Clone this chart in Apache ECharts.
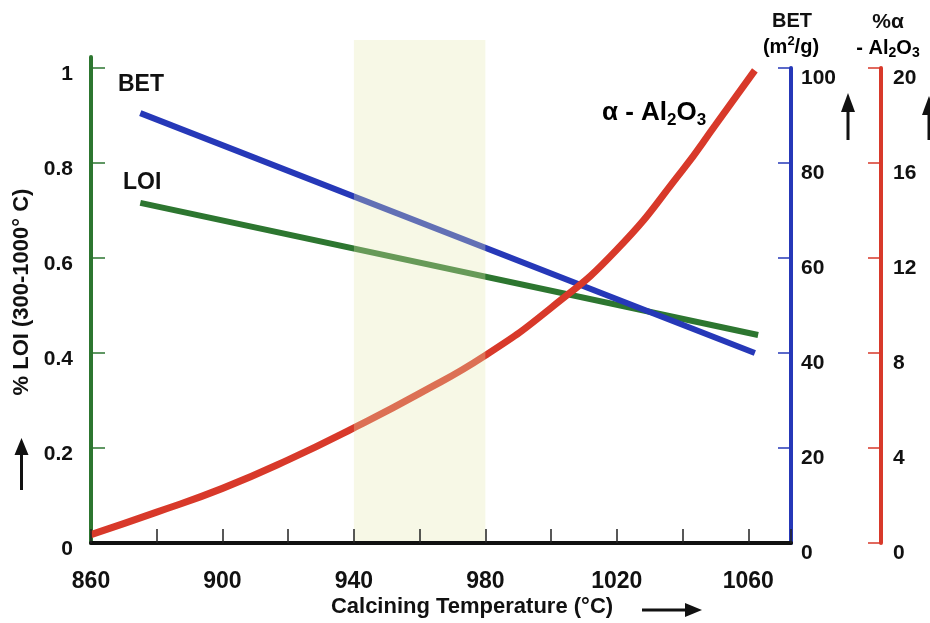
<!DOCTYPE html>
<html><head><meta charset="utf-8">
<script src="https://cdn.jsdelivr.net/npm/echarts@6/dist/echarts.min.js"></script>
<style>html,body{margin:0;padding:0;background:#fff}#c{width:930px;height:623px}</style>
</head><body><div id="c"></div>
<script>
// ---- data ----
const xRange = [860, 1073];
const xLabelTicks = [860, 900, 940, 980, 1020, 1060];
const bandRange = [940, 980];
const bandLevel = [1, 1];

const betTemps = [875, 1062];
const betValues = [90.5, 40];

const loiTemps = [875, 1063];
const loiValues = [0.716, 0.438];

const alphaTemps = [860, 880, 900, 920, 940, 960, 980, 1000, 1020, 1040, 1050, 1062];
const alphaValues = [0.35, 1.3, 2.3, 3.5, 4.85, 6.3, 7.9, 9.9, 12.35, 15.7, 17.6, 19.9];

const loiAxis = {min: 0, max: 1, interval: 0.2};
const betAxis = {min: 0, max: 100, interval: 20};
const alphaAxis = {min: 0, max: 20, interval: 4};

// ---- style ----
const FONT = '"Liberation Sans", Arial, Helvetica, sans-serif';
const BLUE = '#2638b8';
const GREEN = '#2d7630';
const RED = '#d8392a';
const INK = '#111';

const pair = (xs, ys) => xs.map((x, i) => [x, ys[i]]);

const chart = echarts.init(document.getElementById('c'), null, {renderer: 'canvas'});

const tickLabelStyle = {color: INK, fontFamily: FONT, fontWeight: 'bold', fontSize: 21};

function arrow(x1, y1, x2, y2, head, half) {
  const dx = x2 - x1, dy = y2 - y1;
  const len = Math.sqrt(dx * dx + dy * dy);
  const ux = dx / len, uy = dy / len;
  const bx = x2 - ux * head, by = y2 - uy * head;
  return {
    type: 'group', silent: true,
    children: [
      {type: 'line', shape: {x1: x1, y1: y1, x2: bx, y2: by}, style: {stroke: INK, lineWidth: 3}},
      {type: 'polygon', shape: {points: [[x2, y2], [bx - uy * half, by + ux * half], [bx + uy * half, by - ux * half]]}, style: {fill: INK}}
    ]
  };
}

const option = {
  backgroundColor: '#fff',
  animation: false,
  grid: [
    {left: 91, right: 139, top: 68, bottom: 80},   // data grid
    {left: 91, right: 139, top: 40, bottom: 78},   // highlighted band
    {left: 91, right: 139, top: 57, bottom: 80}    // green LOI axis line
  ],
  xAxis: [
    {
      type: 'value', gridIndex: 0, min: xRange[0], max: xRange[1], interval: 20, z: 10,
      axisLine: {show: true, onZero: false, lineStyle: {color: INK, width: 4}},
      axisTick: {show: true, inside: true, length: 14, lineStyle: {color: '#222', width: 1.5}},
      axisLabel: Object.assign({}, tickLabelStyle, {fontSize: 23, margin: 27, formatter: v => xLabelTicks.indexOf(v) >= 0 ? String(v) : ''}),
      splitLine: {show: false}
    },
    {type: 'value', gridIndex: 1, min: xRange[0], max: xRange[1], show: false},
    {type: 'value', gridIndex: 2, min: xRange[0], max: xRange[1], show: false}
  ],
  yAxis: [
    {
      type: 'value', gridIndex: 0, position: 'left', min: loiAxis.min, max: loiAxis.max, interval: loiAxis.interval,
      axisLine: {show: false},
      axisTick: {show: true, inside: true, length: 14, lineStyle: {color: GREEN, width: 1.5}},
      axisLabel: Object.assign({margin: 18, verticalAlign: 'top', lineHeight: 12}, tickLabelStyle),
      splitLine: {show: false}
    },
    {
      type: 'value', gridIndex: 0, position: 'right', offset: 0, min: betAxis.min, max: betAxis.max, interval: betAxis.interval,
      axisLine: {show: true, lineStyle: {color: BLUE, width: 4}},
      axisTick: {show: true, inside: true, length: 13, lineStyle: {color: BLUE, width: 1.5}},
      axisLabel: Object.assign({margin: 10, verticalAlign: 'top', lineHeight: 20}, tickLabelStyle),
      splitLine: {show: false}
    },
    {
      type: 'value', gridIndex: 0, position: 'right', offset: 90, min: alphaAxis.min, max: alphaAxis.max, interval: alphaAxis.interval,
      axisLine: {show: true, lineStyle: {color: RED, width: 4}},
      axisTick: {show: true, inside: true, length: 13, lineStyle: {color: RED, width: 1.5}},
      axisLabel: Object.assign({margin: 12, verticalAlign: 'top', lineHeight: 20}, tickLabelStyle),
      splitLine: {show: false}
    },
    {type: 'value', gridIndex: 1, min: 0, max: 1, show: false},
    {
      type: 'value', gridIndex: 2, position: 'left', min: 0, max: 1,
      axisLine: {show: true, lineStyle: {color: GREEN, width: 4}},
      axisTick: {show: false}, axisLabel: {show: false}, splitLine: {show: false}
    }
  ],
  series: [
    {
      name: 'LOI', type: 'line', xAxisIndex: 0, yAxisIndex: 0, data: pair(loiTemps, loiValues),
      showSymbol: false, lineStyle: {color: GREEN, width: 6}, z: 2
    },
    {
      name: 'BET', type: 'line', xAxisIndex: 0, yAxisIndex: 1, data: pair(betTemps, betValues),
      showSymbol: false, lineStyle: {color: BLUE, width: 6}, z: 3
    },
    {
      name: 'alpha-Al2O3', type: 'line', xAxisIndex: 0, yAxisIndex: 2, data: pair(alphaTemps, alphaValues),
      smooth: 0.5, showSymbol: false, lineStyle: {color: RED, width: 7}, z: 4
    },
    {
      name: 'band', type: 'line', xAxisIndex: 1, yAxisIndex: 3, data: pair(bandRange, bandLevel),
      z: 6, silent: true, showSymbol: false,
      lineStyle: {width: 0, opacity: 0},
      areaStyle: {color: 'rgba(230,232,175,0.45)', origin: 'start'}
    }
  ],
  graphic: [
    // series labels
    {type: 'text', left: 118, top: 73, style: {text: 'BET', fill: INK, font: 'bold 23px ' + FONT}},
    {type: 'text', left: 123, top: 171, style: {text: 'LOI', fill: INK, font: 'bold 23px ' + FONT}},
    {
      type: 'text', left: 602, top: 100,
      style: {
        text: '{a|α - Al}{s|2}{a|O}{s|3}',
        rich: {
          a: {fontFamily: FONT, fontWeight: 'bold', fontSize: 26, lineHeight: 32, color: INK},
          s: {fontFamily: FONT, fontWeight: 'bold', fontSize: 17, lineHeight: 17, verticalAlign: 'bottom', color: INK}
        }
      }
    },
    // right axis titles
    {type: 'text', x: 792, y: 21, style: {text: 'BET', fill: INK, font: 'bold 20px ' + FONT, align: 'center', verticalAlign: 'middle'}},
    {
      type: 'text', x: 791, y: 47,
      style: {
        text: '{a|(m}{p|2}{a|/g)}', align: 'center', verticalAlign: 'middle',
        rich: {
          a: {fontFamily: FONT, fontWeight: 'bold', fontSize: 20, lineHeight: 24, color: INK},
          p: {fontFamily: FONT, fontWeight: 'bold', fontSize: 13, lineHeight: 13, verticalAlign: 'top', color: INK}
        }
      }
    },
    {type: 'text', x: 888, y: 22, style: {text: '%α', fill: INK, font: 'bold 21px ' + FONT, align: 'center', verticalAlign: 'middle'}},
    {
      type: 'text', x: 888, y: 48,
      style: {
        text: '{a|- Al}{s|2}{a|O}{s|3}', align: 'center', verticalAlign: 'middle',
        rich: {
          a: {fontFamily: FONT, fontWeight: 'bold', fontSize: 20, lineHeight: 24, color: INK},
          s: {fontFamily: FONT, fontWeight: 'bold', fontSize: 14, lineHeight: 14, verticalAlign: 'bottom', color: INK}
        }
      }
    },
    // left axis title (rotated)
    {
      type: 'text', x: 22, y: 292, rotation: Math.PI / 2,
      style: {text: '% LOI (300-1000° C)', fill: INK, font: 'bold 22px ' + FONT, align: 'center', verticalAlign: 'middle'}
    },
    // x axis title
    {type: 'text', x: 472, y: 607, style: {text: 'Calcining Temperature (°C)', fill: INK, font: 'bold 22px ' + FONT, align: 'center', verticalAlign: 'middle'}},
    // arrows
    arrow(21.5, 490, 21.5, 438, 17, 7),
    arrow(848, 140, 848, 93, 19, 7),
    arrow(929, 140, 929, 96, 19, 7),
    arrow(642, 610, 702, 610, 17, 7)
  ]
};
chart.setOption(option);
</script>
</body></html>
